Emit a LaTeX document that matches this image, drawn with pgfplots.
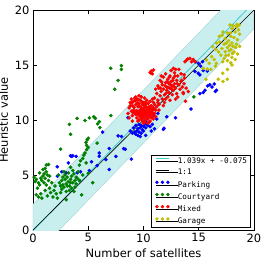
\documentclass[border=0pt]{standalone}
\usepackage{pgfplots}
\pgfplotsset{compat=1.18}
\usepackage{fontspec}
\setmainfont{DejaVu Sans}
\newfontfamily\monofont{DejaVu Sans Mono}
\definecolor{bandfill}{RGB}{201,238,238}
\definecolor{bandedge}{RGB}{170,215,215}
\definecolor{fitline}{RGB}{60,205,210}
\definecolor{cgreen}{RGB}{0,128,0}
\definecolor{cyellow}{RGB}{191,191,0}
\begin{document}
\begin{tikzpicture}
\begin{axis}[
  scale only axis, width=221bp, height=220bp,
  xmin=0, xmax=20, ymin=0, ymax=20,
  xtick={0,5,10,15,20}, ytick={0,5,10,15,20},
  tick align=inside, major tick length=4bp,
  axis line style={line width=0.7bp},
  every tick/.style={black, line width=0.5bp},
  /pgf/number format/assume math mode=true,
  tick label style={font=\fontsize{11.5}{13}\selectfont},
  label style={font=\fontsize{11.5}{13}\selectfont},
  xlabel={Number of satellites}, ylabel={Heuristic value},
  legend cell align=left,
  legend style={at={(axis description cs:0.986,0.009)}, anchor=south east,
    font=\fontsize{7.7}{9}\monofont, draw=black, fill=white, line width=0.6bp,
    inner xsep=3.5bp, inner ysep=2.5bp, row sep=4.2bp,
    nodes={inner sep=0pt, text height=5.8bp, text depth=1.6bp}},
]
\addlegendimage{legend image code/.code={\path (0bp,0bp) -- (21.8bp,0bp); \draw[fitline, line width=1bp] (0.2bp,2.6bp) -- (13.5bp,2.6bp);}}
\addlegendentry{1.039x + -0.075}
\addlegendimage{legend image code/.code={\path (0bp,0bp) -- (21.8bp,0bp); \draw[black, line width=0.6bp] (0.2bp,2.6bp) -- (13.5bp,2.6bp);}}
\addlegendentry{1:1}
\addlegendimage{legend image code/.code={\path (0bp,0bp) -- (21.8bp,0bp); \foreach \xx in {1.2,6.7,12.2}{\fill[blue] (\xx bp,2.6bp) circle (1.4bp);}}}
\addlegendentry{Parking}
\addlegendimage{legend image code/.code={\path (0bp,0bp) -- (21.8bp,0bp); \foreach \xx in {1.2,6.7,12.2}{\fill[cgreen] (\xx bp,2.6bp) circle (1.4bp);}}}
\addlegendentry{Courtyard}
\addlegendimage{legend image code/.code={\path (0bp,0bp) -- (21.8bp,0bp); \foreach \xx in {1.2,6.7,12.2}{\fill[red] (\xx bp,2.6bp) circle (1.4bp);}}}
\addlegendentry{Mixed}
\addlegendimage{legend image code/.code={\path (0bp,0bp) -- (21.8bp,0bp); \foreach \xx in {1.2,6.7,12.2}{\fill[cyellow] (\xx bp,2.6bp) circle (1.4bp);}}}
\addlegendentry{Garage}

% band
\addplot[forget plot, fill=bandfill, draw=bandedge, line width=0.5bp] coordinates {(0,2.325) (20,23.105) (20,18.305) (0,-2.475)} -- cycle;

% Parking
\addplot[forget plot, only marks, mark=*, mark size=1.6bp, blue, mark options={draw=none, fill=blue}] coordinates {
(14.95,14.25)(14.7,15.3)(15.4,14.5)(15.1,14.1)(14.96,15.15)(15.17,14.9)(15.35,15.3)(14.66,14.4)(15.77,14.45)
(15.8,13.1)(16.2,13.0)(16.0,13.2)(16.4,13.27)(16.6,12.7)(16.5,12.6)(15.56,12.7)(15.4,12.5)(15.1,12.4)
(14.3,11.0)(12.9,10.2)(11.0,9.2)(11.8,9.15)(11.85,9.25)
(9.0,8.8)(9.2,8.9)(9.4,9.0)(9.5,9.2)(9.6,8.9)(9.7,9.3)(9.8,9.5)(9.9,9.1)(10.0,9.4)(10.1,9.6)(10.2,9.3)
(10.3,9.7)(10.4,9.5)(10.5,9.8)(9.3,8.7)(9.5,8.6)(9.8,8.8)(10.0,9.0)(10.6,9.4)(10.8,9.6)(9.1,9.3)(9.6,9.6)
(10.2,9.9)(11.2,10.1)(10.9,10.4)(11.3,10.6)(12.1,10.3)(10.2,8.6)(9.7,8.5)(10.7,9.0)
(8.6,10.2)(9.3,9.5)(8.8,9.0)(7.7,8.55)(8.0,8.5)(6.3,8.9)(8.2,7.4)(8.35,7.35)(7.5,6.7)(8.9,6.45)
(6.9,5.5)(6.6,6.4)(6.0,6.7)(6.0,7.0)(5.3,6.2)(5.1,5.4)(4.0,5.2)(4.3,5.3)(3.4,6.75)(3.6,6.75)(3.5,6.7)
(3.9,6.7)(3.2,6.1)(2.2,5.75)(2.6,5.3)(3.0,5.2)(2.2,4.9)(5.8,5.85)(6.9,7.4)
};
% Courtyard
\addplot[forget plot, only marks, mark=*, mark size=1.6bp, cgreen, mark options={draw=none, fill=cgreen}] coordinates {
(0.1,4.8)(0.2,4.4)(0.3,4.6)(0.5,4.3)(0.6,4.1)(0.4,3.8)(0.8,4.5)(0.9,4.9)(1.0,5.1)(1.1,4.7)(1.2,5.3)(1.3,5.0)
(1.0,4.3)(1.2,4.1)(1.4,4.5)(1.5,3.8)(1.1,3.6)(0.7,3.3)(0.5,3.0)(0.8,2.9)(1.3,3.1)(1.6,3.4)(1.8,3.0)(1.9,3.6)
(2.1,3.3)(0.9,5.5)(1.2,5.9)(1.4,5.95)(0.6,5.2)(1.5,4.9)(0.3,3.2)(1.7,4.3)(2.0,4.0)(2.2,2.9)
(2.4,4.3)(2.6,4.5)(2.7,4.1)(2.8,3.9)(2.9,4.6)(3.0,4.2)(3.1,4.8)(3.2,4.4)(3.3,4.0)(3.4,4.6)(3.5,4.9)(3.6,4.3)
(3.7,5.1)(3.8,4.5)(3.9,4.2)(3.3,3.6)(3.0,3.5)(2.6,3.7)(3.5,3.8)(3.8,3.9)(4.0,4.7)(4.1,5.3)(3.6,5.4)(3.2,5.2)
(2.9,5.0)(2.5,3.4)(3.7,3.5)(4.2,4.5)(4.4,3.2)(3.0,2.75)(2.3,5.0)(3.4,5.7)(2.8,5.3)
(2.7,4.8)(3.1,4.0)(3.4,4.3)(2.5,4.0)(3.9,4.8)(1.1,5.6)(0.7,4.7)
(7.04,14.7)(8.0,14.95)(8.0,14.6)(7.7,13.6)(7.4,12.8)(7.04,10.4)(5.5,10.3)(5.65,10.15)(5.1,10.2)(4.7,9.95)
(4.0,10.15)(3.3,9.6)(6.0,9.85)(5.85,9.65)(6.05,9.3)(3.4,8.7)(5.0,8.35)(4.9,8.2)(4.8,7.95)(5.8,7.9)(4.85,7.7)
(5.0,7.5)(2.5,7.35)(4.7,7.0)(4.6,6.8)(4.5,6.5)(4.3,6.3)(4.8,6.1)(4.5,5.0)(5.0,5.15)(4.2,4.5)(5.4,4.3)
(14.56,12.1)(10.7,14.25)(4.85,7.3)(4.2,5.9)
};
% Mixed
\addplot[forget plot, only marks, mark=*, mark size=1.6bp, red, mark options={draw=none, fill=red}] coordinates {
(8.6,10.6)(8.7,11.1)(8.8,11.6)(8.9,11.9)(9.0,11.3)(9.1,10.9)(9.1,11.7)(9.2,12.0)(9.3,10.5)(9.3,11.4)(9.4,11.9)
(9.4,10.2)(9.5,10.8)(9.5,11.2)(9.6,10.0)(9.6,10.6)(9.6,11.5)(9.7,10.3)(9.7,10.9)(9.7,11.8)(9.8,10.1)(9.8,10.7)
(9.8,11.1)(9.9,10.4)(9.9,11.4)(9.9,9.9)(10.0,10.2)(10.0,10.8)(10.0,11.0)(10.0,11.6)(10.1,10.5)(10.1,11.2)
(10.1,9.8)(10.2,10.0)(10.2,10.7)(10.2,11.4)(10.3,10.3)(10.3,10.9)(10.3,11.1)(10.4,10.1)(10.4,10.6)(10.4,11.5)
(10.5,10.4)(10.5,10.8)(10.5,11.2)(10.6,9.9)(10.6,10.5)(10.6,11.0)(10.7,10.2)(10.7,10.7)(10.7,11.3)(10.8,10.4)
(10.8,10.9)(10.9,10.1)(10.9,11.1)(11.0,10.6)(11.0,11.4)(11.1,10.9)(11.2,11.2)(9.2,10.7)(9.4,10.7)(9.0,10.4)
(8.9,10.8)(9.5,9.9)(10.0,9.7)(10.4,9.7)(9.8,12.1)(10.3,11.8)(10.6,11.7)(11.3,11.6)(9.3,12.1)(8.8,11.3)
(9.6,12.2)(10.9,11.6)(10.1,12.0)(11.1,10.3)(11.4,10.9)(9.0,9.9)(8.7,10.2)(10.5,9.8)
(9.15,11.15)(9.35,10.85)(9.55,10.45)(9.75,10.55)(9.85,10.95)(9.95,10.65)(10.05,10.35)(10.15,10.85)(10.25,10.55)
(10.35,10.75)(10.45,10.25)(10.55,10.65)(10.65,10.35)(10.75,10.95)(10.85,10.65)(9.45,11.55)(9.65,11.25)(9.85,11.65)
(10.05,11.35)(10.25,11.15)(10.45,11.0)(10.65,11.25)(8.95,11.55)(9.25,11.75)(9.55,11.85)(10.15,11.6)(9.05,10.65)
(11.0,12.0)(11.2,12.4)(11.3,11.8)(11.4,12.9)(11.5,12.2)(11.5,13.6)(11.6,12.6)(11.7,13.2)(11.7,11.9)(11.8,12.8)
(11.8,13.9)(11.9,12.3)(12.0,13.4)(12.0,14.2)(12.1,12.7)(12.1,13.0)(12.2,12.1)(12.2,13.7)(12.3,12.5)(12.3,13.3)
(12.4,14.0)(12.4,12.9)(12.5,14.5)(12.5,13.5)(12.6,12.3)(12.6,13.1)(12.7,13.8)(12.7,12.7)(12.8,14.3)(12.8,13.3)
(12.9,12.9)(12.9,14.6)(13.0,13.6)(13.0,12.4)(13.1,14.0)(13.2,13.2)(13.2,14.6)(13.3,12.8)(13.4,13.5)(13.5,13.0)
(13.6,12.5)(13.1,12.1)(11.9,11.6)(12.4,11.8)(11.3,13.1)(11.1,12.8)(12.7,14.7)(13.4,14.2)(11.6,14.0)(12.0,11.9)
(10.8,11.9)(11.4,11.4)(13.7,13.8)(13.8,11.7)(12.9,11.9)(11.8,11.3)
(11.95,13.1)(12.15,13.5)(12.35,13.9)(12.55,12.8)(12.65,13.6)(12.85,14.0)(12.25,12.95)(11.65,13.45)(12.05,12.45)
(12.45,13.2)(12.75,13.05)(13.05,13.3)(11.55,12.9)
(10.6,14.3)(10.7,14.45)(10.9,14.55)(10.8,14.2)(13.9,15.45)(14.0,15.55)(14.2,15.6)(14.35,15.3)(14.5,15.5)
(13.75,15.3)(14.66,15.3)(13.67,14.1)(13.45,13.6)(13.67,13.3)(13.85,12.9)(14.05,12.6)(13.6,12.4)
};
% Garage
\addplot[forget plot, only marks, mark=*, mark size=1.6bp, cyellow, mark options={draw=none, fill=cyellow}] coordinates {
(18.67,18.64)(18.43,18.48)(18.13,18.55)(17.83,18.64)(18.0,18.3)(18.6,18.2)(18.3,18.0)(18.7,17.8)(17.6,17.9)
(17.9,17.6)(18.2,17.5)(18.5,17.3)(17.4,17.4)(17.7,17.2)(18.0,17.0)(18.4,16.9)(18.7,16.7)(17.3,16.9)(17.6,16.6)
(17.9,16.4)(18.2,16.2)(18.5,16.0)(17.1,16.5)(17.4,16.2)(17.7,15.9)(18.0,15.7)(18.3,15.5)(17.0,15.9)(17.3,15.6)
(17.6,15.4)(17.9,15.2)(18.1,16.7)(17.5,17.0)(17.8,16.8)(16.86,17.6)(17.2,18.0)(16.9,17.1)(16.26,16.67)(16.56,16.4)
(16.8,16.2)(16.17,15.76)(15.7,15.45)(15.95,15.15)(16.6,15.15)(17.17,15.3)(16.4,15.5)(17.17,14.25)(17.2,13.5)
(15.65,13.7)(15.77,14.64)(16.77,13.7)(17.58,13.7)(15.4,14.7)(16.1,14.6)(16.5,14.9)(18.0,15.0)(17.6,14.6)
(18.45,18.7)(17.1,17.7)(16.6,17.0)(17.75,16.3)(18.05,16.05)(17.45,15.85)(17.85,17.9)(18.35,16.6)
};
% lines
\addplot[forget plot, fitline, line width=0.8bp] coordinates {(0,-0.075) (20,20.705)};
\addplot[forget plot, black, line width=0.6bp] coordinates {(0,0) (20,20)};
\end{axis}
\pgfresetboundingbox
\path (-33bp,-29bp) rectangle (236bp,230bp);
\end{tikzpicture}
\end{document}
